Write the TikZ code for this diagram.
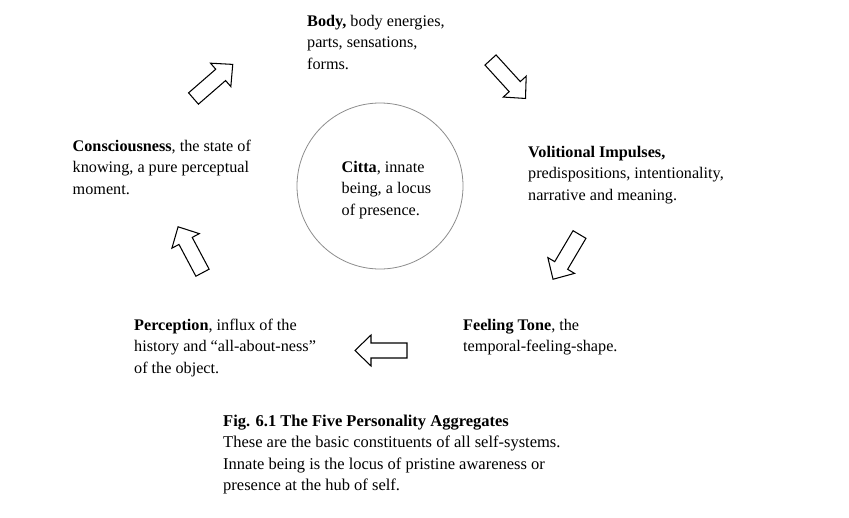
\documentclass[tikz,border=0pt]{standalone}
\usepackage{fontspec}
\setmainfont{Liberation Serif}
\begin{document}
\begin{tikzpicture}[x=1pt,y=-1pt,
  lbl/.style={anchor=base west,inner sep=0pt,align=left,font=\fontsize{16.2}{21.5}\selectfont},
  caplbl/.style={lbl,font=\fontsize{16.5}{21.5}\selectfont},
  arrowline/.style={draw=black,line width=1.05pt,fill=white,line join=miter},
  blockarrow/.pic={\path[arrowline] (0,-7.5) -- (36,-7.5) -- (36,-15.5) -- (52,0) -- (36,15.5) -- (36,7.5) -- (0,7.5) -- cycle;}]
\useasboundingbox (0,0) rectangle (849,517);
\node[draw=gray!90,line width=0.8pt,circle,minimum size=166pt,inner sep=0pt] (circ) at (380,186) {};
% base anchor = baseline of last line
\node[lbl] (body) at (307,26+43) {\textbf{Body,} body energies,\\parts, sensations,\\forms.};
\node[lbl] (vol) at (528,157+43) {\textbf{Volitional Impulses,}\\predispositions, intentionality,\\narrative and meaning.};
\node[lbl] (cons) at (72.5,151+43) {\textbf{Consciousness}, the state of\\knowing, a pure perceptual\\moment.};
\node[lbl] (citta) at (341.5,172+43) {\textbf{Citta}, innate\\being, a locus\\of presence.};
\node[lbl] (perc) at (134,330+43) {\textbf{Perception}, influx of the\\history and “all-about-ness”\\of the object.};
\node[lbl] (feel) at (463,330+21.5) {\textbf{Feeling Tone}, the\\temporal-feeling-shape.};
\node[caplbl] (cap) at (223,426+64.5) {\textbf{Fig. 6.1 The Five Personality Aggregates}\\These are the basic constituents of all self-systems.\\Innate being is the locus of pristine awareness or\\presence at the hub of self.};
\pic[rotate=41] at (193.5,98.5) {blockarrow};
\pic[rotate=-47.7] at (490.5,60) {blockarrow};
\pic[rotate=-120.6] at (579.5,234.5) {blockarrow};
\pic[rotate=180] at (407,350.5) {blockarrow};
\pic[rotate=118] at (202.5,272.7) {blockarrow};
\end{tikzpicture}
\end{document}
